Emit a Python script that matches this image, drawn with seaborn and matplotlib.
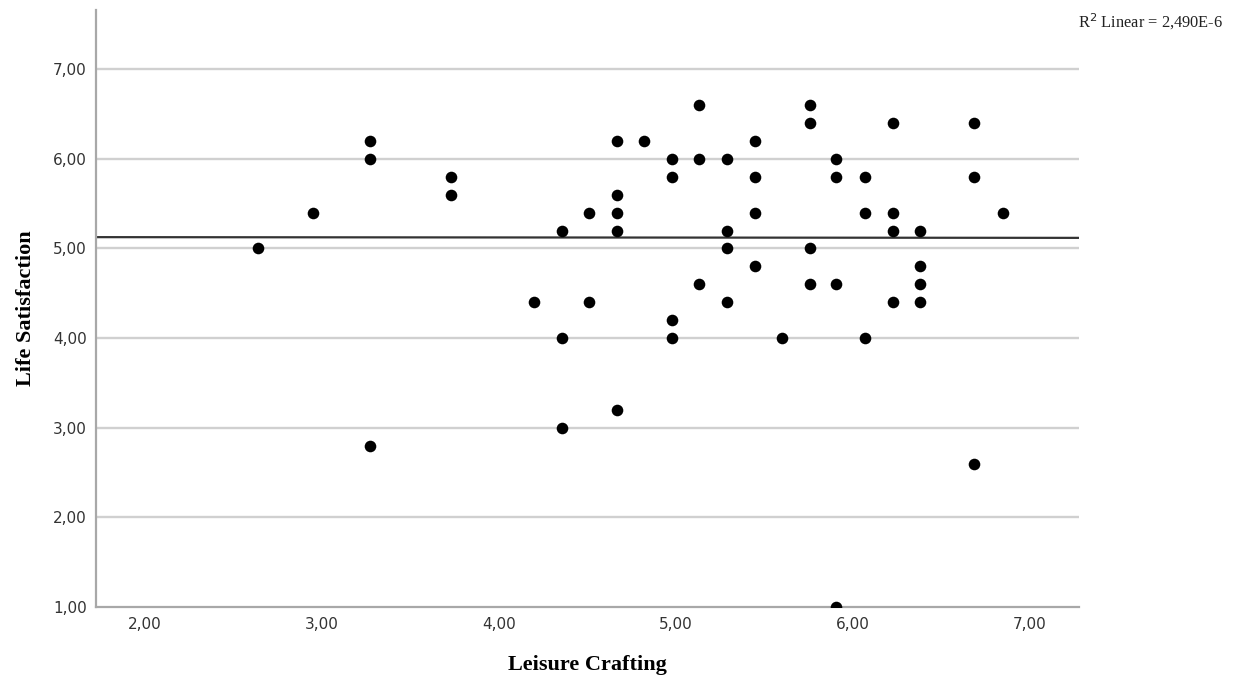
import matplotlib
matplotlib.use("Agg")
import matplotlib.pyplot as plt
import seaborn as sns
import pandas as pd

# Data
leisure_crafting = [
    2.64, 2.95, 3.27, 3.27, 3.27,
    3.73, 3.73,
    4.20,
    4.36, 4.36, 4.36,
    4.51, 4.51,
    4.67, 4.67, 4.67, 4.67, 4.67,
    4.82,
    4.98, 4.98, 4.98, 4.98,
    5.13, 5.13, 5.13,
    5.29, 5.29, 5.29, 5.29,
    5.45, 5.45, 5.45, 5.45,
    5.60,
    5.76, 5.76, 5.76, 5.76,
    5.91, 5.91, 5.91, 5.91,
    6.07, 6.07, 6.07,
    6.23, 6.23, 6.23, 6.23,
    6.38, 6.38, 6.38, 6.38,
    6.69, 6.69, 6.69,
    6.85,
]
life_satisfaction = [
    5.0, 5.4, 6.2, 6.0, 2.8,
    5.8, 5.6,
    4.4,
    5.2, 4.0, 3.0,
    5.4, 4.4,
    6.2, 5.6, 5.4, 5.2, 3.2,
    6.2,
    6.0, 5.8, 4.2, 4.0,
    6.6, 6.0, 4.6,
    6.0, 5.2, 5.0, 4.4,
    6.2, 5.8, 5.4, 4.8,
    4.0,
    6.6, 6.4, 5.0, 4.6,
    6.0, 5.8, 4.6, 1.0,
    5.8, 5.4, 4.0,
    6.4, 5.4, 5.2, 4.4,
    5.2, 4.8, 4.6, 4.4,
    6.4, 5.8, 2.6,
    5.4,
]
# Linear fit line (R^2 = 2.490E-6, essentially flat)
fit_x = [1.72, 7.28]
fit_y = [5.126, 5.118]

x_ticks = [2, 3, 4, 5, 6, 7]
y_ticks = [1, 2, 3, 4, 5, 6, 7]
x_tick_labels = ["2,00", "3,00", "4,00", "5,00", "6,00", "7,00"]
y_tick_labels = ["1,00", "2,00", "3,00", "4,00", "5,00", "6,00", "7,00"]

df = pd.DataFrame({"Leisure Crafting": leisure_crafting,
                   "Life Satisfaction": life_satisfaction})
fit_df = pd.DataFrame({"x": fit_x, "y": fit_y})

sns.set_theme(style="white")
plt.rcParams["font.family"] = ["DejaVu Sans"]

fig = plt.figure(figsize=(12.36, 6.78), dpi=100)
ax = fig.add_axes([96 / 1236, 1 - 607 / 678, (1079.3 - 96) / 1236, (607 - 10) / 678])

ax.set_xlim(1.723, 7.283)
ax.set_ylim(1.0, 7.66)

for yt in y_ticks[1:]:
    ax.axhline(yt, color="#d0d0d0", lw=1.7, zorder=1)

sns.lineplot(data=fit_df, x="x", y="y", ax=ax, color="#333333", lw=1.6, zorder=2)
sns.scatterplot(data=df, x="Leisure Crafting", y="Life Satisfaction", ax=ax,
                color="black", s=70, edgecolor="black", linewidth=0, zorder=3)

ax.set_xticks(x_ticks)
ax.set_xticklabels(x_tick_labels)
ax.set_yticks(y_ticks)
ax.set_yticklabels(y_tick_labels)
ax.tick_params(axis="both", length=0, labelsize=11, labelcolor="#333333")
ax.tick_params(axis="x", pad=7.5)
ax.tick_params(axis="y", pad=6.5)

for side in ["top", "right"]:
    ax.spines[side].set_visible(False)
for side in ["left", "bottom"]:
    ax.spines[side].set_color("#a8a8a8")
    ax.spines[side].set_linewidth(1.6)

ax.set_xlabel("Leisure Crafting", family="Liberation Serif", fontweight="bold",
              fontsize=16, color="black", labelpad=16)
ax.set_ylabel("Life Satisfaction", family="Liberation Serif", fontweight="bold",
              fontsize=16, color="black", labelpad=12)

fig.text(1223 / 1236, 1 - 22 / 678, r"R$^{2}$ Linear = 2,490E-6",
         family="Liberation Serif", fontsize=11.8, ha="right", va="center",
         color="#222222")

fig.savefig("out.png", dpi=100, facecolor="white")
